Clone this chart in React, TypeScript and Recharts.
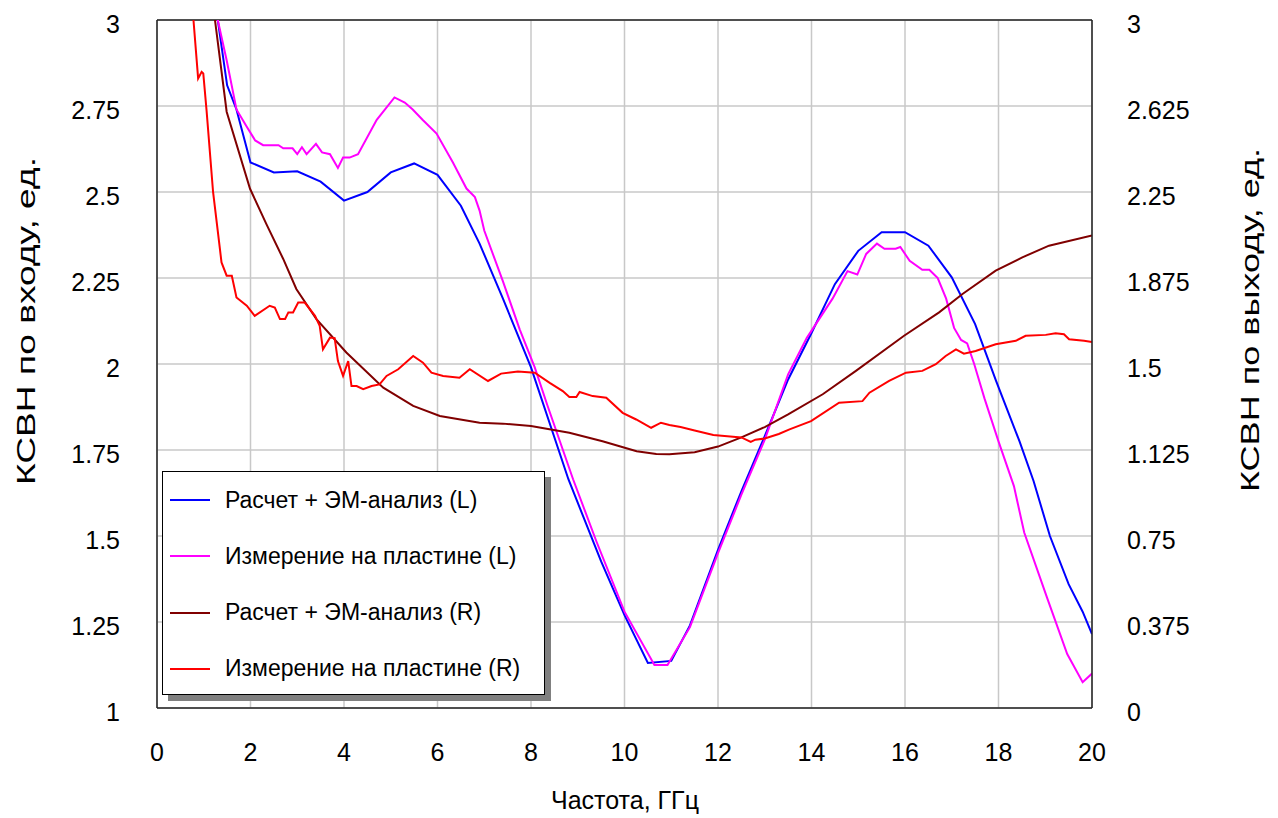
import { LineChart, Line, XAxis, YAxis, CartesianGrid, ReferenceLine, Label } from 'recharts'

// частоты, ГГц
const freqTicks = [0, 2, 4, 6, 8, 10, 12, 14, 16, 18, 20]
const leftTicks = [1, 1.25, 1.5, 1.75, 2, 2.25, 2.5, 2.75, 3]
const rightTicks = [0, 0.375, 0.75, 1.125, 1.5, 1.875, 2.25, 2.625, 3]

// Расчет + ЭМ-анализ (L)
const calcLFreq = [1.1, 1.3, 1.5, 1.7, 2.0, 2.5, 3.0, 3.5, 4.0, 4.5, 5.0, 5.5, 6.0, 6.5, 6.9, 7.4, 8.0, 8.8, 9.5, 10.0, 10.5, 11.0, 11.4, 12.0, 12.5, 13.0, 13.5, 14.0, 14.5, 15.0, 15.5, 16.0, 16.5, 17.0, 17.5, 17.95, 18.45, 18.75, 19.1, 19.5, 19.8, 20.0]
const calcLVswr = [3.4, 3.0, 2.81, 2.74, 2.586, 2.557, 2.56, 2.53, 2.475, 2.5, 2.557, 2.583, 2.55, 2.46, 2.35, 2.19, 1.99, 1.665, 1.426, 1.27, 1.131, 1.137, 1.24, 1.46, 1.63, 1.79, 1.955, 2.09, 2.232, 2.329, 2.383, 2.383, 2.344, 2.252, 2.116, 1.95, 1.775, 1.66, 1.5, 1.36, 1.28, 1.215]

// Измерение на пластине (L)
const measLFreq = [1.1, 1.3, 1.49, 1.7, 1.92, 2.1, 2.27, 2.6, 2.7, 2.9, 3.0, 3.1, 3.2, 3.4, 3.53, 3.7, 3.87, 3.98, 4.12, 4.3, 4.7, 5.08, 5.3, 5.47, 5.68, 5.98, 6.33, 6.62, 6.8, 6.9, 7.0, 7.4, 7.76, 8.08, 8.35, 8.9, 9.4, 10.0, 10.64, 10.92, 11.4, 12.0, 12.5, 13.0, 13.5, 13.9, 14.45, 14.77, 14.98, 15.17, 15.4, 15.56, 15.8, 15.9, 16.1, 16.37, 16.52, 16.7, 16.88, 17.05, 17.2, 17.33, 17.48, 17.7, 18.0, 18.33, 18.55, 19.04, 19.47, 19.8, 20.0]
const measLVswr = [3.4, 3.0, 2.883, 2.74, 2.69, 2.65, 2.636, 2.636, 2.627, 2.627, 2.61, 2.63, 2.61, 2.64, 2.615, 2.61, 2.57, 2.6, 2.6, 2.61, 2.71, 2.775, 2.76, 2.74, 2.71, 2.67, 2.586, 2.51, 2.485, 2.446, 2.388, 2.24, 2.1, 1.99, 1.88, 1.665, 1.484, 1.28, 1.125, 1.125, 1.235, 1.45, 1.62, 1.78, 1.97, 2.076, 2.19, 2.27, 2.26, 2.32, 2.35, 2.335, 2.335, 2.34, 2.3, 2.274, 2.274, 2.25, 2.19, 2.105, 2.07, 2.06, 2.0, 1.9, 1.775, 1.645, 1.51, 1.32, 1.157, 1.075, 1.1]

// Расчет + ЭМ-анализ (R)
const calcRFreq = [1.1, 1.24, 1.49, 1.99, 2.34, 2.7, 2.98, 3.41, 4.05, 4.84, 5.48, 6.05, 6.9, 7.4, 8.0, 8.82, 9.53, 10.26, 10.68, 10.96, 11.5, 12.0, 12.5, 13.0, 13.5, 14.24, 14.95, 15.98, 16.73, 17.23, 17.94, 18.51, 19.08, 20.0]
const calcRVswr = [3.35, 3.0, 2.6, 2.264, 2.11, 1.958, 1.827, 1.696, 1.55, 1.397, 1.317, 1.273, 1.244, 1.24, 1.23, 1.2, 1.163, 1.12, 1.108, 1.107, 1.115, 1.14, 1.18, 1.225, 1.28, 1.368, 1.47, 1.623, 1.725, 1.805, 1.907, 1.965, 2.016, 2.06]

// Измерение на пластине (R)
const measRFreq = [0.7, 0.78, 0.88, 0.955, 0.99, 1.06, 1.2, 1.35, 1.38, 1.49, 1.6, 1.7, 1.92, 2.09, 2.41, 2.52, 2.63, 2.74, 2.81, 2.91, 3.02, 3.16, 3.38, 3.48, 3.55, 3.7, 3.8, 3.87, 3.98, 4.09, 4.16, 4.27, 4.41, 4.59, 4.76, 4.91, 5.16, 5.48, 5.69, 5.87, 6.12, 6.47, 6.69, 7.08, 7.36, 7.72, 8.08, 8.4, 8.68, 8.82, 8.97, 9.04, 9.32, 9.61, 9.96, 10.25, 10.57, 10.78, 10.96, 11.2, 11.5, 11.9, 12.2, 12.5, 12.7, 12.8, 13.0, 13.3, 13.53, 13.99, 14.59, 15.09, 15.24, 15.66, 16.02, 16.37, 16.66, 16.87, 17.09, 17.26, 17.51, 17.94, 18.37, 18.58, 19.01, 19.22, 19.4, 19.51, 19.83, 20.0]
const measRVswr = [3.3, 3.0, 2.745, 2.774, 2.767, 2.606, 2.249, 1.994, 1.943, 1.885, 1.885, 1.79, 1.754, 1.71, 1.754, 1.746, 1.696, 1.696, 1.725, 1.725, 1.768, 1.768, 1.71, 1.666, 1.564, 1.615, 1.613, 1.513, 1.448, 1.513, 1.404, 1.404, 1.39, 1.404, 1.411, 1.448, 1.477, 1.535, 1.506, 1.462, 1.448, 1.44, 1.477, 1.426, 1.458, 1.467, 1.462, 1.418, 1.382, 1.356, 1.356, 1.378, 1.36, 1.353, 1.287, 1.258, 1.222, 1.244, 1.234, 1.225, 1.21, 1.19, 1.185, 1.18, 1.16, 1.17, 1.175, 1.195, 1.215, 1.251, 1.331, 1.338, 1.375, 1.426, 1.462, 1.47, 1.499, 1.535, 1.564, 1.545, 1.557, 1.586, 1.601, 1.623, 1.627, 1.634, 1.63, 1.608, 1.601, 1.596]

const toPoints = (f: number[], v: number[]) => f.map((x, i) => ({ f: x, v: v[i] }))

const series = [
  { name: 'Расчет + ЭМ-анализ (L)', color: '#0000ff', axis: 'left', data: toPoints(calcLFreq, calcLVswr) },
  { name: 'Измерение на пластине (L)', color: '#ff00ff', axis: 'left', data: toPoints(measLFreq, measLVswr) },
  { name: 'Расчет + ЭМ-анализ (R)', color: '#800000', axis: 'right', data: toPoints(calcRFreq, calcRVswr) },
  { name: 'Измерение на пластине (R)', color: '#ff0000', axis: 'right', data: toPoints(measRFreq, measRVswr) },
]

const font = '"Liberation Sans", Arial, sans-serif'

const LeftTick = (props: any) => (
  <text x={props.x - 37} y={props.y + 4} textAnchor="end" dominantBaseline="central" fontSize={25} fontFamily={font} fill="#000">
    {props.payload.value}
  </text>
)

const RightTick = (props: any) => (
  <text x={props.x + 35} y={props.y + 4} textAnchor="start" dominantBaseline="central" fontSize={25} fontFamily={font} fill="#000">
    {props.payload.value}
  </text>
)

const BottomTick = (props: any) => (
  <text x={props.x} y={props.y + 44} textAnchor="middle" dominantBaseline="central" fontSize={25} fontFamily={font} fill="#000">
    {props.payload.value}
  </text>
)

// подписи осей Y — повернутые, растянутые по длине как в оригинале
const VTitle = ({ px, py, len, text }: { px: number; py: number; len: number; text: string }) => (
  <text
    x={px}
    y={py}
    transform={`rotate(-90 ${px} ${py})`}
    textAnchor="middle"
    dominantBaseline="central"
    fontSize={25}
    fontFamily={font}
    fill="#000"
    textLength={len}
    lengthAdjust="spacingAndGlyphs"
  >
    {text}
  </text>
)

const XTitle = () => (
  <text x={625} y={800} textAnchor="middle" dominantBaseline="central" fontSize={25} fontFamily={font} fill="#000">
    Частота, ГГц
  </text>
)

function LegendBox() {
  return (
    <div
      style={{
        position: 'absolute',
        left: 162,
        top: 471,
        width: 381,
        height: 222,
        background: '#fff',
        border: '1.5px solid #000',
        boxShadow: '6px 6px 0 #808080',
        fontFamily: font,
        fontSize: 23,
        color: '#000',
      }}
    >
      {series.map((s, i) => (
        <div key={s.name} style={{ position: 'absolute', left: 0, top: 28 + i * 56.3 - 14, height: 28, display: 'flex', alignItems: 'center' }}>
          <div style={{ marginLeft: 7, width: 40, height: 2, background: s.color }} />
          <span style={{ marginLeft: 15, whiteSpace: 'nowrap' }}>{s.name}</span>
        </div>
      ))}
    </div>
  )
}

export default function App() {
  return (
    <div style={{ position: 'absolute', left: 0, top: 0, width: 1278, height: 818, background: '#fff' }}>
      <LineChart width={1278} height={818} margin={{ top: 20, right: 0, bottom: 0, left: 0 }}>
        <CartesianGrid stroke="#c8c8c8" strokeWidth={1.5} yAxisId="left" />
        <XAxis
          dataKey="f"
          type="number"
          domain={[0, 20]}
          ticks={freqTicks}
          allowDataOverflow
          height={110}
          tickLine={false}
          tickSize={0}
          tickMargin={0}
          tick={<BottomTick />}
          axisLine={{ stroke: '#222', strokeWidth: 1.5 }}
        >
          <Label content={<XTitle />} />
        </XAxis>
        <YAxis
          yAxisId="left"
          type="number"
          domain={[1, 3]}
          ticks={leftTicks}
          allowDataOverflow
          width={157}
          tickLine={false}
          tickSize={0}
          tickMargin={0}
          tick={<LeftTick />}
          axisLine={{ stroke: '#222', strokeWidth: 1.5 }}
        >
          <Label content={<VTitle px={26} py={321} len={328} text="КСВН по входу, ед." />} />
        </YAxis>
        <YAxis
          yAxisId="right"
          orientation="right"
          type="number"
          domain={[0, 3]}
          ticks={rightTicks}
          allowDataOverflow
          width={186}
          tickLine={false}
          tickSize={0}
          tickMargin={0}
          tick={<RightTick />}
          axisLine={{ stroke: '#222', strokeWidth: 1.5 }}
        >
          <Label content={<VTitle px={1250} py={320} len={344} text="КСВН по выходу, ед." />} />
        </YAxis>
        <ReferenceLine y={3} yAxisId="left" stroke="#222" strokeWidth={1.5} />
        {series.map(s => (
          <Line
            key={s.name}
            data={s.data}
            dataKey="v"
            yAxisId={s.axis}
            type="linear"
            stroke={s.color}
            strokeWidth={2}
            dot={false}
            activeDot={false}
            isAnimationActive={false}
          />
        ))}
      </LineChart>
      <LegendBox />
    </div>
  )
}
